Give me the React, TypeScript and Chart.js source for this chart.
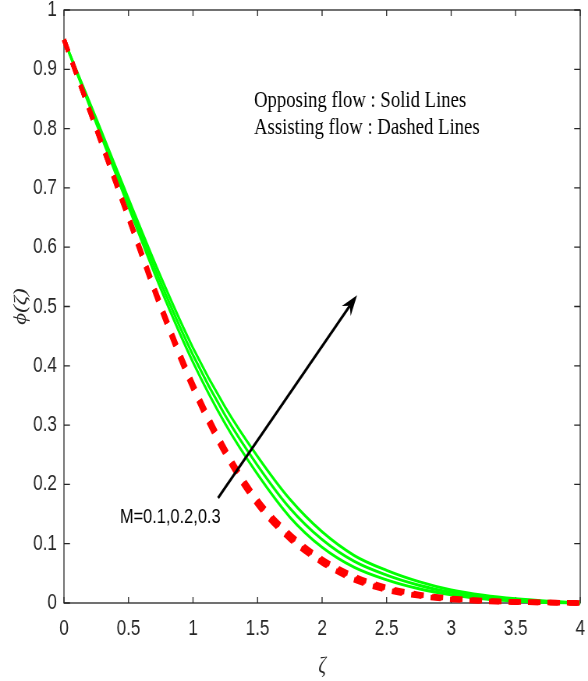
import React, { useEffect, useRef } from "react";
import { Chart, registerables } from "chart.js";

Chart.register(...registerables);

// Similarity variable ζ
const zeta = [0, 0.25, 0.5, 0.75, 1, 1.25, 1.5, 1.75, 2, 2.25, 2.5, 2.75, 3, 3.25, 3.5, 3.75, 4];

// Opposing flow (solid lines), φ(ζ) for M = 0.1, 0.2, 0.3
const opposingM01 = [0.95, 0.809, 0.668, 0.53, 0.406, 0.302, 0.217, 0.145, 0.094, 0.06, 0.039, 0.024, 0.014, 0.007, 0.003, 0.001, 0.0];
const opposingM02 = [0.95, 0.813, 0.675, 0.54, 0.418, 0.316, 0.232, 0.16, 0.107, 0.07, 0.047, 0.03, 0.018, 0.01, 0.005, 0.002, 0.0];
const opposingM03 = [0.95, 0.817, 0.682, 0.55, 0.43, 0.33, 0.247, 0.175, 0.12, 0.08, 0.055, 0.036, 0.022, 0.013, 0.007, 0.003, 0.0];

// Assisting flow (dashed lines), φ(ζ) for M = 0.1, 0.2, 0.3
const assistingM01 = [0.95, 0.799, 0.648, 0.497, 0.361, 0.251, 0.166, 0.108, 0.068, 0.039, 0.022, 0.012, 0.006, 0.003, 0.0014, 0.0007, 0.0];
const assistingM02 = [0.95, 0.8, 0.65, 0.5, 0.365, 0.255, 0.17, 0.112, 0.071, 0.042, 0.024, 0.013, 0.007, 0.0035, 0.0017, 0.0008, 0.0];
const assistingM03 = [0.95, 0.801, 0.652, 0.503, 0.369, 0.259, 0.174, 0.116, 0.074, 0.045, 0.026, 0.0145, 0.008, 0.004, 0.002, 0.0009, 0.0];

// Axis ticks
const xTickValues = [0, 0.5, 1, 1.5, 2, 2.5, 3, 3.5, 4];
const yTickValues = [0, 0.1, 0.2, 0.3, 0.4, 0.5, 0.6, 0.7, 0.8, 0.9, 1];

// Annotation texts and their anchors (data coordinates)
const legendLines = ["Opposing flow : Solid Lines", "Assisting flow : Dashed Lines"];
const legendAnchor = { x: 1.473, y: [0.836, 0.791] };
const paramLabel = "M=0.1,0.2,0.3";
const paramAnchor = { x: 0.434, y: 0.135 };
const arrowFrom = { x: 1.194, y: 0.177 };
const arrowTo = { x: 2.271, y: 0.519 };

// The figure is drawn wide and squeezed horizontally into the page
const PAGE_W = 588;
const PAGE_H = 681;
const DRAW_W = 754;
const SQUEEZE = PAGE_W / DRAW_W;

const AXIS_INK = "#262626";
const SANS = "'Liberation Sans', Arial, Helvetica, sans-serif";
const SERIF = "'Liberation Serif', 'Times New Roman', serif";

const fmt = (v: number) => String(Number(Number(v).toFixed(1)));

const series = (ys: number[]) => zeta.map((z, i) => ({ x: z, y: ys[i] }));

const framePlugin = {
  id: "frame",
  beforeDatasetsDraw(chart: any) {
    const { ctx, chartArea: a, scales } = chart;
    const xs = scales.x;
    const ys = scales.y;
    ctx.save();
    ctx.strokeStyle = AXIS_INK;
    ctx.lineWidth = 1.3;
    ctx.strokeRect(a.left, a.top, a.right - a.left, a.bottom - a.top);
    ctx.beginPath();
    for (const v of xTickValues) {
      const px = xs.getPixelForValue(v);
      ctx.moveTo(px, a.bottom);
      ctx.lineTo(px, a.bottom - 6);
      ctx.moveTo(px, a.top);
      ctx.lineTo(px, a.top + 6);
    }
    for (const v of yTickValues) {
      const py = ys.getPixelForValue(v);
      ctx.moveTo(a.left, py);
      ctx.lineTo(a.left + 7.7, py);
      ctx.moveTo(a.right, py);
      ctx.lineTo(a.right - 7.7, py);
    }
    ctx.stroke();
    ctx.restore();
  },
};

const notesPlugin = {
  id: "notes",
  afterDatasetsDraw(chart: any) {
    const { ctx, scales } = chart;
    const xs = scales.x;
    const ys = scales.y;
    ctx.save();

    // Arrow showing the direction of increasing M
    const x0 = xs.getPixelForValue(arrowFrom.x);
    const y0 = ys.getPixelForValue(arrowFrom.y);
    const x1 = xs.getPixelForValue(arrowTo.x);
    const y1 = ys.getPixelForValue(arrowTo.y);
    const ang = Math.atan2(y1 - y0, x1 - x0);
    const c = Math.cos(ang);
    const s = Math.sin(ang);
    const headLen = 21;
    const headHalf = 7.5;
    const notch = 14;
    ctx.strokeStyle = "#000";
    ctx.fillStyle = "#000";
    ctx.lineWidth = 3;
    ctx.beginPath();
    ctx.moveTo(x0, y0);
    ctx.lineTo(x1 - notch * c, y1 - notch * s);
    ctx.stroke();
    ctx.beginPath();
    ctx.moveTo(x1, y1);
    ctx.lineTo(x1 - headLen * c + headHalf * s, y1 - headLen * s - headHalf * c);
    ctx.lineTo(x1 - notch * c, y1 - notch * s);
    ctx.lineTo(x1 - headLen * c - headHalf * s, y1 - headLen * s + headHalf * c);
    ctx.closePath();
    ctx.fill();

    // Line-style key
    ctx.font = `24px ${SERIF}`;
    ctx.textAlign = "left";
    ctx.textBaseline = "alphabetic";
    legendLines.forEach((t, i) => {
      ctx.fillText(t, xs.getPixelForValue(legendAnchor.x), ys.getPixelForValue(legendAnchor.y[i]));
    });

    // Parameter label
    ctx.font = `21px ${SANS}`;
    ctx.fillText(paramLabel, xs.getPixelForValue(paramAnchor.x), ys.getPixelForValue(paramAnchor.y));
    ctx.restore();
  },
};

export default function App() {
  const canvasRef = useRef<HTMLCanvasElement | null>(null);

  useEffect(() => {
    document.body.style.margin = "0";
    const canvas = canvasRef.current;
    if (!canvas) return;

    const dashed = (ys: number[]) => ({
      data: series(ys),
      borderColor: "#ff0000",
      borderWidth: 5.5,
      borderDash: [13, 12],
      borderCapStyle: "butt" as const,
      pointRadius: 0,
      clip: 8,
    });
    const solid = (ys: number[]) => ({
      data: series(ys),
      borderColor: "#00ff00",
      borderWidth: 3,
      pointRadius: 0,
      clip: 8,
    });

    const chart = new Chart(canvas, {
      type: "line",
      data: {
        datasets: [
          // first datasets are painted last, so dashed lines sit on top
          { label: "Assisting M=0.1", ...dashed(assistingM01) },
          { label: "Assisting M=0.2", ...dashed(assistingM02) },
          { label: "Assisting M=0.3", ...dashed(assistingM03) },
          { label: "Opposing M=0.1", ...solid(opposingM01) },
          { label: "Opposing M=0.2", ...solid(opposingM02) },
          { label: "Opposing M=0.3", ...solid(opposingM03) },
        ],
      },
      options: {
        animation: false,
        responsive: true,
        maintainAspectRatio: false,
        layout: { padding: { top: 10, right: 10, left: 0, bottom: 0 } },
        plugins: { legend: { display: false }, tooltip: { enabled: false } },
        elements: { line: { cubicInterpolationMode: "monotone" } },
        scales: {
          x: {
            type: "linear",
            min: 0,
            max: 4,
            grid: { display: false, drawTicks: false },
            border: { display: false },
            afterBuildTicks: (sc: any) => {
              sc.ticks = xTickValues.map((v) => ({ value: v }));
            },
            afterFit: (sc: any) => {
              sc.height = 78;
              sc.paddingLeft = 0;
              sc.paddingRight = 0;
            },
            ticks: {
              padding: 13,
              color: AXIS_INK,
              autoSkip: false,
              maxRotation: 0,
              font: { family: SANS, size: 22 },
              callback: (v: any) => fmt(v),
            },
            title: {
              display: true,
              text: "ζ",
              color: AXIS_INK,
              font: { family: SERIF, size: 24, style: "italic" },
              padding: { top: 0, bottom: 1 },
            },
          },
          y: {
            type: "linear",
            min: 0,
            max: 1,
            grid: { display: false, drawTicks: false },
            border: { display: false },
            afterBuildTicks: (sc: any) => {
              sc.ticks = yTickValues.map((v) => ({ value: v }));
            },
            afterFit: (sc: any) => {
              sc.width = 82;
              sc.paddingTop = 0;
              sc.paddingBottom = 0;
            },
            ticks: {
              padding: 9,
              color: AXIS_INK,
              autoSkip: false,
              font: { family: SANS, size: 22 },
              callback: (v: any) => fmt(v),
            },
            title: {
              display: true,
              text: "ϕ(ζ)",
              color: AXIS_INK,
              font: { family: SERIF, size: 23, style: "italic" },
              padding: { top: 13, bottom: 0 },
            },
          },
        },
      },
      plugins: [framePlugin, notesPlugin],
    });

    return () => chart.destroy();
  }, []);

  return (
    <div style={{ width: PAGE_W, height: PAGE_H, overflow: "hidden" }}>
      <div
        style={{
          width: DRAW_W,
          height: PAGE_H,
          transform: `scaleX(${SQUEEZE})`,
          transformOrigin: "0 0",
        }}
      >
        <canvas ref={canvasRef} />
      </div>
    </div>
  );
}
